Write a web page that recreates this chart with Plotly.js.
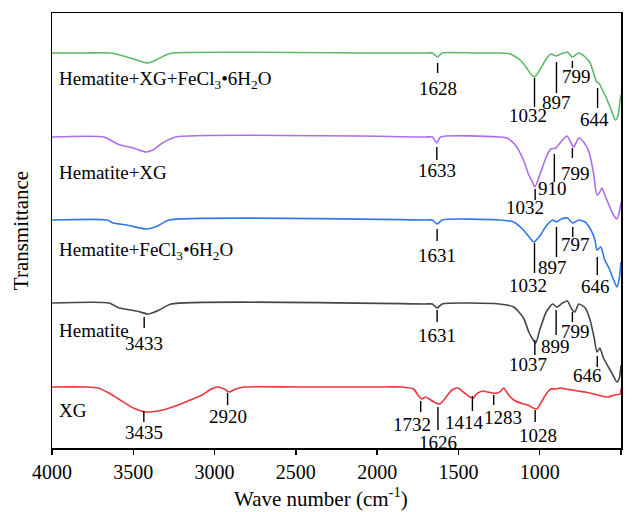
<!DOCTYPE html>
<html>
<head>
<meta charset="utf-8">
<script src="https://cdn.plot.ly/plotly-3.0.1.min.js"></script>
<style>html,body{margin:0;padding:0;background:#fff;}#chart{width:635px;height:512px;}</style>
</head>
<body>
<div id="chart"></div>
<script>
// ---- data (transmittance, arbitrary stacked units) ----
const seriesNames = ['Hematite+XG+FeCl<sub>3</sub>•6H<sub>2</sub>O', 'Hematite+XG', 'Hematite+FeCl<sub>3</sub>•6H<sub>2</sub>O', 'Hematite', 'XG'];

const greenWn = [4000,3800,3640,3560,3480,3410,3360,3300,3260,2000,1700,1660,1628,1600,1400,1250,1180,1120,1080,1050,1030,1000,960,930,900,870,830,800,780,760,720,690,665,650,636,620,590,560,535,520,505,500];
const greenT  = [395,395,395,392,388,385,388,393,395,395,395,395,391,395,395,395,394,388,380,373,371,378,389,394,392,394,396,391,393,395,391,385,373,366,365,360,350,338,328,331,348,353];

const purpleWn = [4000,3680,3620,3580,3500,3420,3380,3320,3240,1700,1660,1633,1610,1250,1200,1150,1100,1067,1050,1030,1000,960,932,901,870,833,800,790,760,730,697,670,648,630,617,600,574,550,525,510,500];
const purpleT  = [311,311,306,303,300,296,298,305,311,311,311,305,311,311,310,303,288,273,268,261,273,291,299,300,306,312,303,301,310,306,296,276,253,256,260,253,243,234,229,236,245];

const blueWn = [4000,3660,3624,3540,3421,3350,3280,1700,1660,1631,1600,1250,1160,1100,1060,1036,1000,960,920,897,867,830,797,760,720,685,660,648,624,600,574,550,525,510,500];
const blueT  = [228,228,225,223,219,222,228,228,228,224,228,228,226,218,210,206,212,222,228,226,229,230,225,228,226,218,208,198,201,188,180,170,161,170,186];

const grayWn = [4000,3650,3587,3480,3408,3340,3267,1700,1660,1631,1600,1250,1160,1100,1067,1040,1024,1000,960,920,895,860,830,800,784,760,720,690,665,648,630,608,574,550,525,510,500];
const grayT  = [145,145,140,137,134,138,144,144,144,140,144,144,141,130,116,108,105,118,136,144,141,145,147,138,136,144,140,128,110,96,100,90,80,73,66,70,83];

const redWn = [4000,3800,3717,3650,3600,3500,3421,3320,3242,3150,3076,3020,2983,2940,2910,2870,2817,2500,2000,1850,1776,1745,1726,1702,1680,1650,1616,1580,1540,1505,1470,1430,1406,1390,1351,1320,1290,1258,1240,1221,1200,1160,1100,1073,1040,1018,990,960,932,900,870,840,800,765,720,667,620,580,540,505,500];
const redT  = [61,61,60,55,50,40,36,38,42,48,53,59,61,59,56,59,61,61,61,61,59,52,49,51,49,46,44,50,58,60,56,51,50,54,57,56,55,55,57,60,55,48,44,43,40,39,46,54,59,59,60,59,58,57,56,54,52,51,53,54,59];

// ---- peak annotations ----
const peakLabels = ['1628','1032','897','799','644',
                    '1633','1032','910','799',
                    '1631','1032','897','797','646',
                    '3433','1631','1037','899','799','646',
                    '3435','2920','1732','1626','1414','1283','1028'];
const peakWn     = [1628,1032,897,799,644, 1633,1028,910,799, 1631,1032,897,797,646, 3433,1631,1030,899,799,646, 3435,2920,1732,1626,1414,1283,1028];
const peakTop    = [385,370,386,387,360, 301,259,294,300, 219,205,221,221,191, 131,138,108,138,136,92, 37,55,47,41,52,53,38];
const peakBottom = [375,341,355,380,340, 288,248,266,290, 207,175,191,211,173, 120,126,93,113,126,81, 26,43,36,18,37,43,26];
const labelWn    = [1628,1072,894,771,660, 1633,1090,924,777, 1631,1072,924,777,654, 3433,1631,1072,906,777,709, 3435,2920,1786,1626,1460,1226,1010];
const labelT     = [360,333,346,372,329, 278,241,260,275, 193,163,181,204,162, 105,113,84,102,117,73, 16,32,24,6,26,31,13];

const nameLabelT = [368,276,197,118,38];
const xTicks = [4000,3500,3000,2500,2000,1500,1000,500];

// ---- build ----
const colors = ['rgb(92,186,102)','rgb(170,110,235)','rgb(50,120,230)','rgb(70,70,70)','rgb(235,55,60)'];
const xs = [greenWn, purpleWn, blueWn, grayWn, redWn];
const ys = [greenT, purpleT, blueT, grayT, redT];
const font = 'Liberation Serif, Times New Roman, serif';

const traces = xs.map((x,i)=>({
  x: x, y: ys[i], type:'scatter', mode:'lines',
  line:{color:colors[i], width:1.6, shape:'spline', smoothing:0.6},
  hoverinfo:'skip', showlegend:false
}));

const shapes = peakWn.map((w,i)=>({
  type:'line', xref:'x', yref:'y', x0:w, x1:w, y0:peakTop[i], y1:peakBottom[i],
  line:{color:'black', width:1.4}
}));

const annotations = peakLabels.map((t,i)=>({
  x:labelWn[i], y:labelT[i], xref:'x', yref:'y', text:t, showarrow:false,
  xanchor:'center', yanchor:'middle', font:{family:font, size:19, color:'black'}
}));
seriesNames.forEach((n,i)=>annotations.push({
  x:3970, y:nameLabelT[i], xref:'x', yref:'y', text:n, showarrow:false,
  xanchor:'left', yanchor:'middle', font:{family:font, size:19, color:'black'}
}));
annotations.push({
  xref:'paper', yref:'paper', x:-0.055, y:0.5, text:'Transmittance', textangle:-90,
  showarrow:false, xanchor:'center', yanchor:'middle', font:{family:font, size:21, color:'black'}
});
annotations.push({
  xref:'paper', yref:'paper', x:0.473, y:-0.113, text:'Wave number (cm<sup>-1</sup>)',
  showarrow:false, xanchor:'center', yanchor:'middle', font:{family:font, size:21, color:'black'}
});

const layout = {
  width:635, height:512,
  margin:{l:52, r:14, t:13, b:64},
  paper_bgcolor:'white', plot_bgcolor:'white',
  showlegend:false,
  xaxis:{
    range:[4000,500], tickvals:xTicks, ticktext:xTicks.map(String),
    showgrid:false, zeroline:false, showline:true, mirror:true,
    linecolor:'black', linewidth:1.5, ticks:'outside', ticklen:5, tickwidth:1.3, tickcolor:'black',
    tickfont:{family:font, size:20, color:'black'}
  },
  yaxis:{
    range:[0,435], showticklabels:false, ticks:'', showgrid:false, zeroline:false,
    showline:true, mirror:true, linecolor:'black', linewidth:1.5
  },
  shapes:shapes, annotations:annotations
};

Plotly.newPlot('chart', traces, layout, {staticPlot:true, displayModeBar:false});
</script>
</body>
</html>
